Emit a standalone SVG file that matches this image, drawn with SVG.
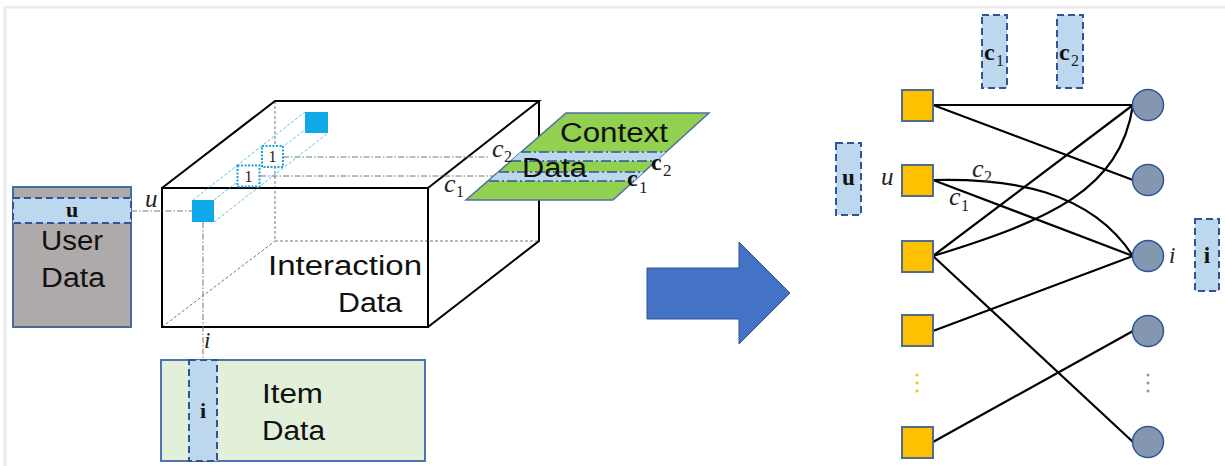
<svg xmlns="http://www.w3.org/2000/svg" width="1225" height="466" viewBox="0 0 1225 466">
  <defs>
    <style>
      .lbl { font-family: "Liberation Sans", Arial, sans-serif; font-size: 27px; fill: #111; }
      .math { font-family: "Liberation Serif", "DejaVu Serif", serif; font-style: italic; fill: #222; }
      .bold { font-family: "Liberation Serif", "DejaVu Serif", serif; font-weight: bold; fill: #111; }
      .sub { font-family: "Liberation Serif", "DejaVu Serif", serif; fill: #222; }
      .edge { fill: none; stroke: #000; stroke-width: 2.2; }
      .cube { fill: none; stroke: #000; stroke-width: 2; }
      .hidden { fill: none; stroke: #777; stroke-width: 1; stroke-dasharray: 3 2; }
      .dashdot { fill: none; stroke: #777; stroke-width: 1; stroke-dasharray: 6 2 1.5 2; }
      .strip { fill: #BDD7EE; stroke: #2F5597; stroke-width: 2; stroke-dasharray: 7 4; }
      .prism { fill: none; stroke: #5BC0E8; stroke-width: 1; stroke-dasharray: 3 2; }
      .cell { fill: #0FA8E8; }
      .one { fill: #fff; stroke: #1FA0DC; stroke-width: 2; stroke-dasharray: 2 1.5; }
      .user { fill: #FFC000; stroke: #4F6D8F; stroke-width: 2; }
      .item { fill: #8497B0; stroke: #2F5597; stroke-width: 1.5; }
      .ctxline { stroke: #2F5597; stroke-width: 1.6; stroke-dasharray: 10 3 2 3; fill: none; }
    </style>
  </defs>

  <!-- page frame -->
  <rect x="0" y="0" width="1225" height="466" fill="#ffffff"/>
  <rect x="3" y="6" width="1222" height="2.5" fill="#ebebeb"/>
  <rect x="3" y="6" width="4" height="460" fill="#eeeeee"/>

  <!-- user data table -->
  <g id="user-data">
    <rect x="13" y="187" width="118" height="140" fill="#AEAAAA" stroke="#4A6A9A" stroke-width="2"/>
    <rect x="13" y="198" width="118" height="25" class="strip"/>
    <text x="72" y="217" class="bold" font-size="22" text-anchor="middle">u</text>
    <text x="72" y="250" class="lbl" text-anchor="middle" textLength="62" lengthAdjust="spacingAndGlyphs">User</text>
    <text x="73" y="287" class="lbl" text-anchor="middle" textLength="64" lengthAdjust="spacingAndGlyphs">Data</text>
  </g>

  <!-- item data table -->
  <g id="item-data">
    <rect x="161" y="360" width="264" height="101" fill="#E2F0D9" stroke="#4F74B4" stroke-width="2"/>
    <rect x="189" y="360" width="28" height="101" class="strip"/>
    <text x="203" y="418" class="bold" font-size="22" text-anchor="middle">i</text>
    <text x="262" y="403" class="lbl" textLength="61" lengthAdjust="spacingAndGlyphs">Item</text>
    <text x="262" y="440" class="lbl" textLength="63" lengthAdjust="spacingAndGlyphs">Data</text>
  </g>

  <!-- interaction cube -->
  <g id="interaction-data">
    <path class="hidden" d="M275,101 V241 H539 M162,327 L275,241"/>
    <rect x="162" y="188" width="266" height="139" class="cube"/>
    <path class="cube" d="M162,188 L275,101 H539 L428,188 M539,101 V241 L428,327"/>
    <!-- projections onto user, item and context axes -->
    <path class="dashdot" d="M131,211 H192 M203,222 V360 M283,157 H490 M260,176 H493"/>
    <!-- interaction cells -->
    <path class="prism" d="M193,200 L305,112 M214,200 L328,112 M214,222 L328,133"/>
    <rect x="192" y="200" width="22" height="22" class="cell"/>
    <rect x="305" y="112" width="23" height="21" class="cell"/>
    <rect x="237.5" y="165.5" width="22" height="21" class="one"/>
    <rect x="262" y="146" width="21" height="21" class="one"/>
    <text x="248.5" y="182" class="sub" font-size="16" fill="#555" text-anchor="middle">1</text>
    <text x="272.5" y="162" class="sub" font-size="16" fill="#555" text-anchor="middle">1</text>
    <text x="422" y="275" class="lbl" text-anchor="end" textLength="154" lengthAdjust="spacingAndGlyphs">Interaction</text>
    <text x="402" y="312" class="lbl" text-anchor="end" textLength="64" lengthAdjust="spacingAndGlyphs">Data</text>
    <text x="145" y="207" class="math" font-size="25">u</text>
    <text x="204" y="348" class="math" font-size="23">i</text>
  </g>

  <!-- context slices -->
  <g id="context-data">
    <polygon points="566,113 709,113 613,200 466,200" fill="#92D050" stroke="#4F6FA8" stroke-width="1.5"/>
    <polygon points="521,152 666,152 656,161 511,161" fill="#BDD7EE"/>
    <polygon points="499,172 644,172 634,181 489,181" fill="#BDD7EE"/>
    <path class="ctxline" d="M521,152 H666 M511,161 H656 M499,172 H644 M489,181 H634"/>
    <text x="560" y="142" class="lbl" textLength="108" lengthAdjust="spacingAndGlyphs">Context</text>
    <text x="522" y="177" class="lbl" textLength="65" lengthAdjust="spacingAndGlyphs">Data</text>
    <text x="492" y="157" class="math" font-size="26">c</text>
    <text x="504" y="162" class="sub" font-size="16">2</text>
    <text x="444" y="192" class="math" font-size="26">c</text>
    <text x="456" y="197" class="sub" font-size="16">1</text>
    <text x="651" y="170" class="bold" font-size="24">c</text>
    <text x="663" y="176" class="sub" font-size="17">2</text>
    <text x="627" y="186" class="bold" font-size="24">c</text>
    <text x="639" y="193" class="sub" font-size="17">1</text>
  </g>

  <!-- transform arrow -->
  <g id="arrow">
    <polygon points="647,268 739,268 739,242 790,293 739,344 739,319 647,319" fill="#4472C4" stroke="#2F528F" stroke-width="1"/>
  </g>

  <!-- graph edges -->
  <g id="connectors">
    <line class="edge" x1="933" y1="105" x2="1133" y2="105"/>
    <line class="edge" x1="933" y1="105" x2="1133" y2="180"/>
    <path class="edge" d="M933,180 C1010,178 1090,190 1133,256"/>
    <line class="edge" x1="933" y1="180" x2="1133" y2="256"/>
    <line class="edge" x1="933" y1="256" x2="1133" y2="105"/>
    <path class="edge" d="M933,256 C1050,220 1120,190 1133,105"/>
    <line class="edge" x1="933" y1="256" x2="1133" y2="442"/>
    <line class="edge" x1="933" y1="331" x2="1133" y2="256"/>
    <line class="edge" x1="933" y1="442" x2="1133" y2="331"/>
    <text x="972" y="177" class="math" font-size="26">c</text>
    <text x="984" y="182" class="sub" font-size="16">2</text>
    <text x="949" y="205" class="math" font-size="26">c</text>
    <text x="961" y="211" class="sub" font-size="16">1</text>
  </g>

  <!-- user nodes -->
  <g id="user-1"><rect x="902" y="90" width="31" height="31" class="user"/></g>
  <g id="user-u">
    <rect x="902" y="165" width="31" height="31" class="user"/>
    <text x="881" y="185" class="math" font-size="25">u</text>
  </g>
  <g id="user-3"><rect x="902" y="241" width="31" height="31" class="user"/></g>
  <g id="user-4"><rect x="902" y="315" width="31" height="31" class="user"/></g>
  <g id="user-dots">
    <circle cx="917" cy="375" r="1.5" fill="#FFC000"/>
    <circle cx="917" cy="383" r="1.5" fill="#FFC000"/>
    <circle cx="917" cy="391" r="1.5" fill="#FFC000"/>
  </g>
  <g id="user-5"><rect x="902" y="427" width="31" height="31" class="user"/></g>

  <!-- item nodes -->
  <g id="item-1"><circle cx="1148" cy="105" r="15.5" class="item"/></g>
  <g id="item-2"><circle cx="1148" cy="180" r="15.5" class="item"/></g>
  <g id="item-i">
    <circle cx="1148" cy="256" r="15.5" class="item"/>
    <text x="1169" y="263" class="math" font-size="23">i</text>
  </g>
  <g id="item-4"><circle cx="1148" cy="331" r="15.5" class="item"/></g>
  <g id="item-dots">
    <circle cx="1148" cy="375" r="1.5" fill="#8497B0"/>
    <circle cx="1148" cy="383" r="1.5" fill="#8497B0"/>
    <circle cx="1148" cy="391" r="1.5" fill="#8497B0"/>
  </g>
  <g id="item-5"><circle cx="1148" cy="442" r="15.5" class="item"/></g>

  <!-- embedding vectors -->
  <g id="vec-c1">
    <rect x="982" y="15" width="25" height="73" class="strip"/>
    <text x="984" y="60" class="bold" font-size="24">c</text>
    <text x="996" y="66" class="sub" font-size="16">1</text>
  </g>
  <g id="vec-c2">
    <rect x="1057" y="15" width="26" height="73" class="strip"/>
    <text x="1059" y="60" class="bold" font-size="24">c</text>
    <text x="1071" y="66" class="sub" font-size="16">2</text>
  </g>
  <g id="vec-u">
    <rect x="836" y="143" width="25" height="72" class="strip"/>
    <text x="848.5" y="185" class="bold" font-size="23" text-anchor="middle">u</text>
  </g>
  <g id="vec-i">
    <rect x="1195" y="219" width="24" height="72" class="strip"/>
    <text x="1207" y="263" class="bold" font-size="23" text-anchor="middle">i</text>
  </g>
</svg>
